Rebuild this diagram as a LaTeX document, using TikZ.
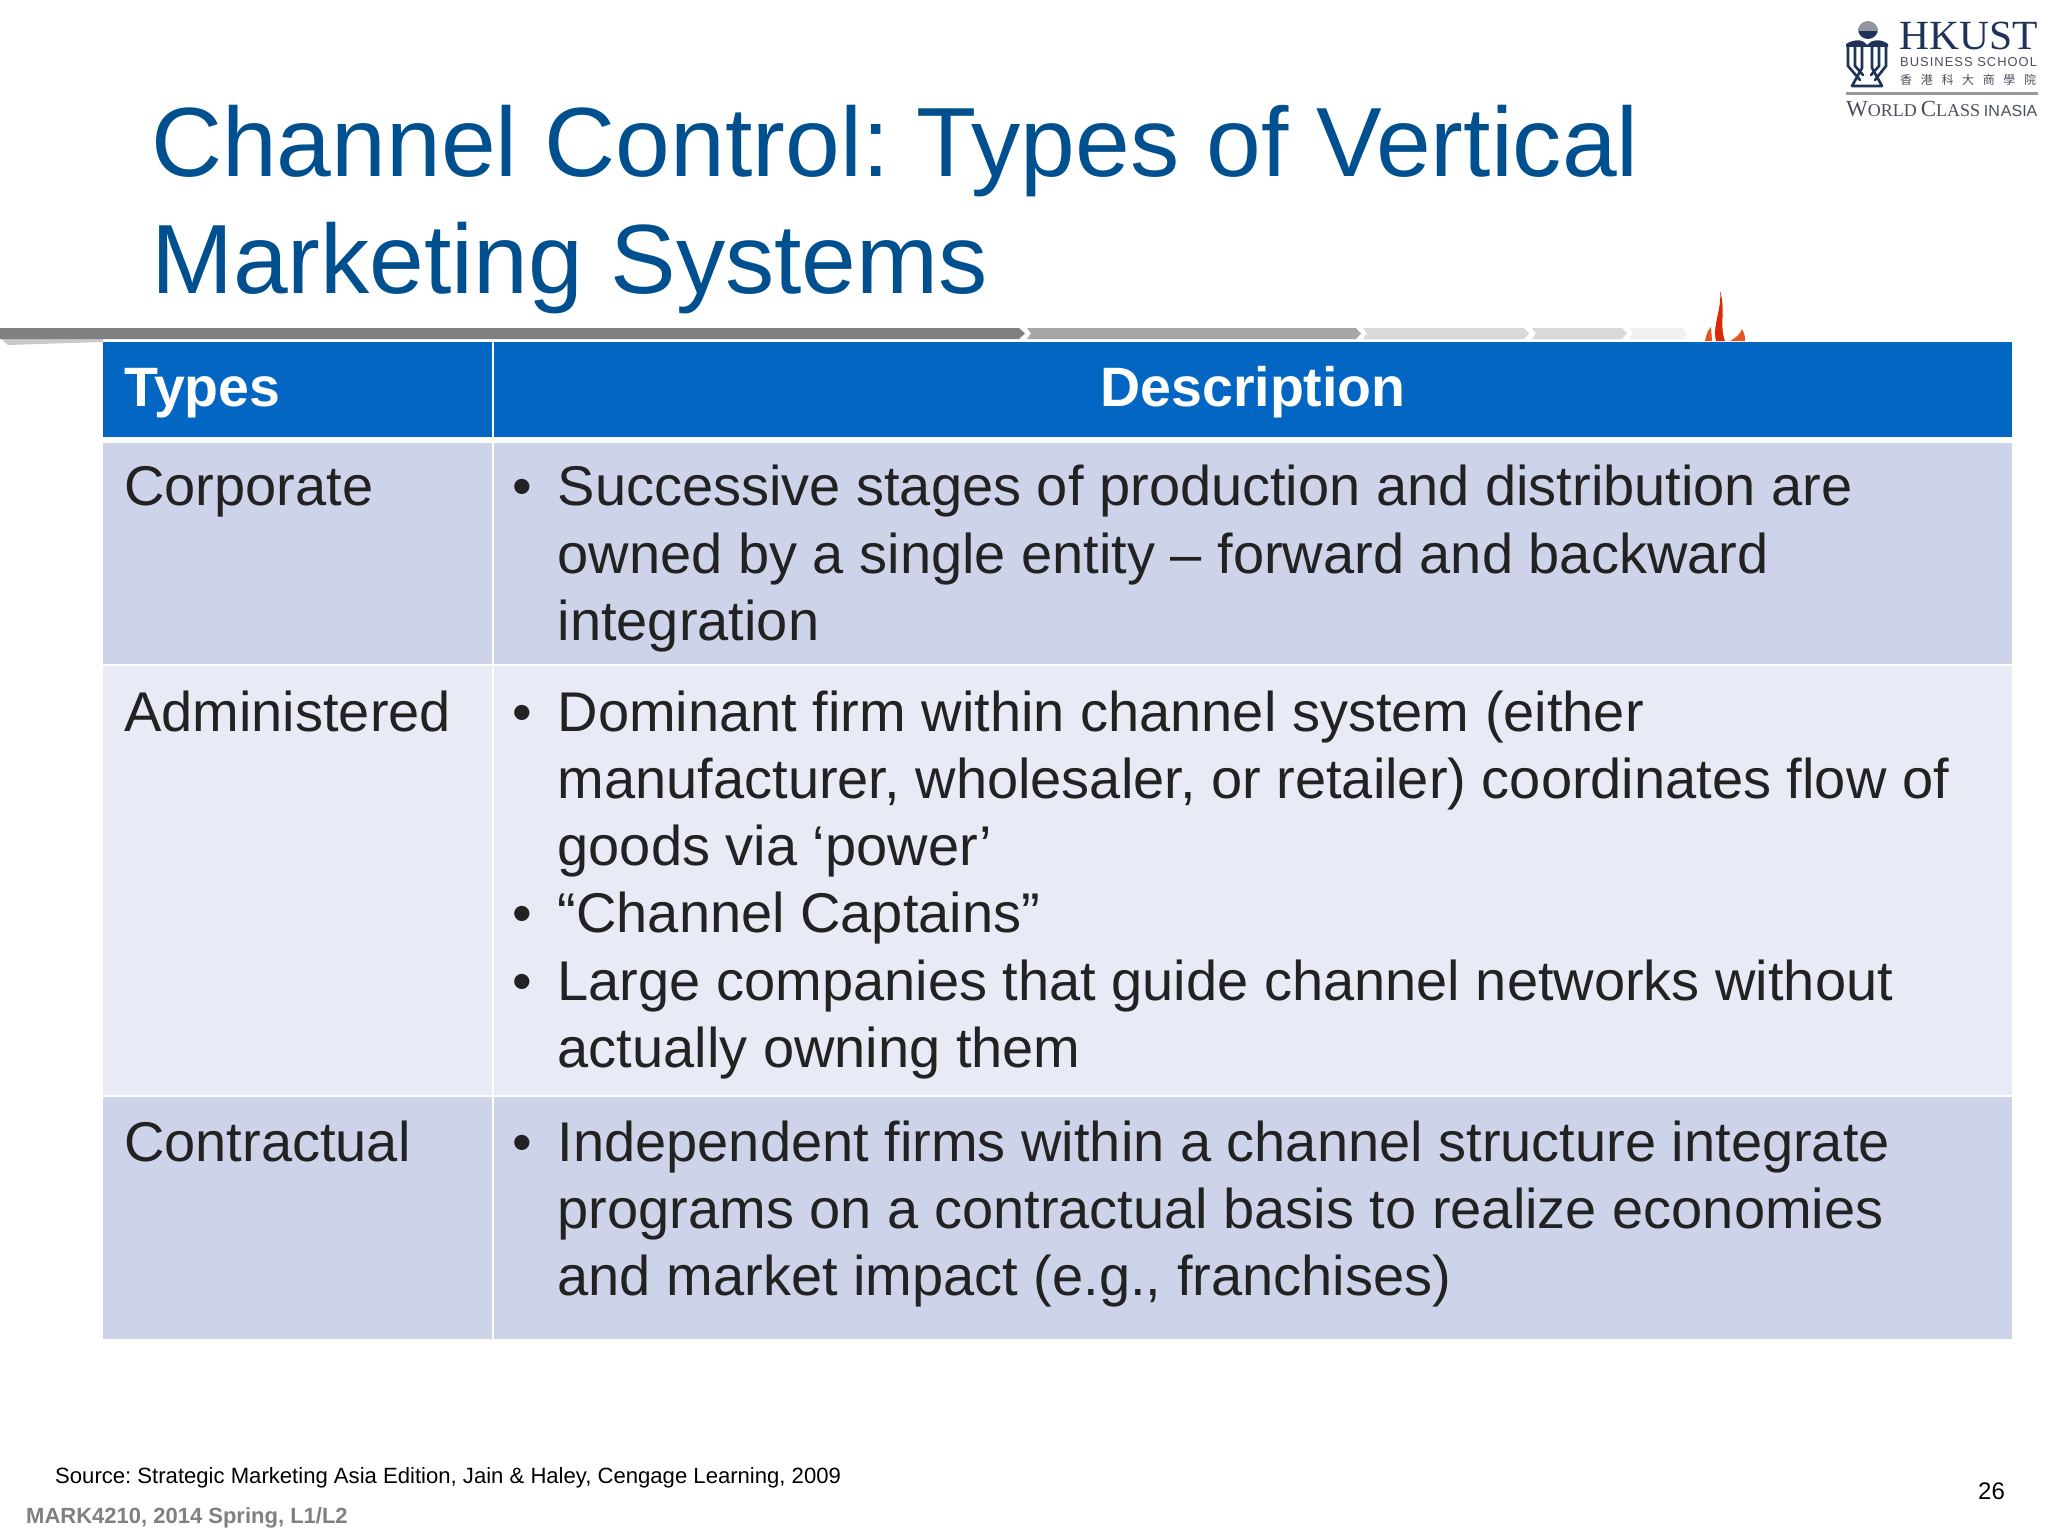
\documentclass[tikz,border=0pt]{standalone}
\usepackage{fontspec}
\setmainfont{Liberation Sans}
\newfontfamily\logoserif{Liberation Serif}
\newfontfamily\cjkfont{Noto Sans CJK TC}
\frenchspacing
\definecolor{titleblue}{HTML}{00508F}
\definecolor{headblue}{HTML}{0366C2}
\definecolor{rowdark}{HTML}{CDD4EA}
\definecolor{rowlight}{HTML}{E8EBF5}
\definecolor{logonavy}{HTML}{1F3358}
\definecolor{logogray}{HTML}{4A4F5C}
\definecolor{bodyink}{HTML}{222222}
\definecolor{flamered}{HTML}{D92B06}
\definecolor{flameorange}{HTML}{E8561E}
\tikzset{
  x=1pt,y=-1pt,
  cellbox/.style={anchor=north west,inner sep=0pt,outer sep=0pt,draw=none},
  titletext/.style={anchor=base west,inner sep=0pt,text=titleblue,font=\fontsize{98.4}{100}\selectfont},
  headtext/.style={inner sep=0pt,text=white,font=\fontsize{55.5}{60}\selectfont\bfseries},
  bodytext/.style={inner sep=0pt,text=bodyink,font=\fontsize{56}{67.3}\selectfont},
  paratext/.style={bodytext,anchor=north west,align=left},
  bulletmark/.style={bodytext,anchor=base west},
  labeltext/.style={bodytext,anchor=base west},
  barseg/.style={draw=none},
}
\newcommand{\bodyrule}{\rule{0pt}{46pt}}
\begin{document}
\begin{tikzpicture}
\useasboundingbox (0,0) rectangle (2048,1536);
\fill[white] (0,0) rectangle (2048,1536);
% progress bar
\fill[black!35,opacity=.6] (0,338) -- (103,338) -- (103,342) -- (8,345) -- cycle;
\fill[barseg,fill=black!50] (0,328) -- (1019,328) -- (1025,333.5) -- (1019,339) -- (0,339) -- cycle;
\fill[barseg,fill=black!35] (1027,328) -- (1356,328) -- (1361,333.5) -- (1356,339) -- (1027,339) -- (1031,333.5) -- cycle;
\fill[barseg,fill=black!15] (1363,328) -- (1524,328) -- (1529,333.5) -- (1524,339) -- (1363,339) -- (1367,333.5) -- cycle;
\fill[barseg,fill=black!15] (1532,328) -- (1622,328) -- (1627,333.5) -- (1622,339) -- (1532,339) -- (1536,333.5) -- cycle;
\fill[barseg,fill=black!6] (1629,328) -- (1683,328) -- (1687,333.5) -- (1683,339) -- (1629,339) -- (1633,333.5) -- cycle;
% flame
\fill[flamered] (1720,291) .. controls (1726,310) and (1719,325) .. (1725,341) -- (1716,341) .. controls (1712,325) and (1722,310) .. (1720,291) -- cycle;
\fill[flameorange] (1705,341) .. controls (1706,335) and (1708,330) .. (1711,327) -- (1712,341) -- cycle;
\fill[flameorange] (1745,341) .. controls (1745,335) and (1744,332) .. (1742,329) .. controls (1740,334) and (1736,338) .. (1730,341) -- cycle;
% title
\node[titletext] (title1) at (151,176) {Channel Control: Types of Vertical};
\node[titletext] (title2) at (151,293) {Marketing Systems};
% table cells
\node[cellbox,fill=headblue,minimum width=389pt,minimum height=95pt] (h1) at (103,342) {};
\node[cellbox,fill=headblue,minimum width=1518pt,minimum height=95pt] (h2) at (494,342) {};
\node[cellbox,fill=rowdark,minimum width=389pt,minimum height=221pt] (a1) at (103,443) {};
\node[cellbox,fill=rowdark,minimum width=1518pt,minimum height=221pt] (a2) at (494,443) {};
\node[cellbox,fill=rowlight,minimum width=389pt,minimum height=429pt] (b1) at (103,666) {};
\node[cellbox,fill=rowlight,minimum width=1518pt,minimum height=429pt] (b2) at (494,666) {};
\node[cellbox,fill=rowdark,minimum width=389pt,minimum height=242pt] (c1) at (103,1097) {};
\node[cellbox,fill=rowdark,minimum width=1518pt,minimum height=242pt] (c2) at (494,1097) {};
% headers
\node[headtext,anchor=base west] (types) at (124,406) {Types};
\node[headtext,anchor=base] (descr) at (1253,406) {Description};
% first column
\node[labeltext] (corp) at (124,505.5) {Corporate};
\node[labeltext] (admin) at (124,731) {Administered};
\node[labeltext] (contr) at (124,1161) {Contractual};
% bullets
\node[bulletmark] (ba) at (512,505.5) {•};
\node[bulletmark] (bb) at (512,731) {•};
\node[bulletmark] (bc) at (512,932) {•};
\node[bulletmark] (bd) at (512,1000) {•};
\node[bulletmark] (be) at (512,1161) {•};
% descriptions
\node[paratext] (pa) at (557.5,459.5) {\bodyrule Successive stages of production and distribution are\\owned by a single entity – forward and backward\\integration};
\node[paratext] (pb) at (557.5,685) {\bodyrule Dominant firm within channel system (either\\manufacturer, wholesaler, or retailer) coordinates flow of\\goods via ‘power’};
\node[paratext] (pc) at (557.5,886) {\bodyrule “Channel Captains”};
\node[paratext] (pd) at (557.5,954) {\bodyrule Large companies that guide channel networks without\\actually owning them};
\node[paratext] (pe) at (557.5,1115) {\bodyrule Independent firms within a channel structure integrate\\programs on a contractual basis to realize economies\\and market impact (e.g., franchises)};
% footer
\node[anchor=base west,inner sep=0pt,font=\fontsize{22.1}{26}\selectfont] (src) at (55,1483) {Source: Strategic Marketing Asia Edition, Jain \& Haley, Cengage Learning, 2009};
\node[anchor=base west,inner sep=0pt,text=black!50,font=\fontsize{22}{26}\selectfont\bfseries] (mark) at (26,1523) {MARK4210, 2014 Spring, L1/L2};
\node[anchor=base west,inner sep=0pt,font=\fontsize{24}{26}\selectfont] (pg) at (1978,1499) {26};
% logo
\fill[logonavy] (1858,29) arc[start angle=180,end angle=0,radius=10] -- cycle;
\fill[logogray!60] (1858,31) arc[start angle=180,end angle=360,radius=10] -- cycle;
\fill[logonavy] (1846,44) .. controls (1856,38) and (1864,40) .. (1867,45) .. controls (1871,40) and (1880,38) .. (1888,44) -- (1888,47) -- (1846,47) -- cycle;
\draw[logonavy,line width=2.6pt,line cap=round]
  (1848,47) -- (1848,66) -- (1860,80)
  (1855,47) -- (1855,66) -- (1863,75)
  (1862,47) -- (1862,68) -- (1852,86)
  (1886,47) -- (1886,66) -- (1875,80)
  (1879,47) -- (1879,66) -- (1871,75)
  (1872,47) -- (1872,68) -- (1882,86)
  (1852,86) -- (1882,86);
\node[anchor=base west,inner sep=0pt,text=logonavy,font=\logoserif\fontsize{41.5}{44}\selectfont] (hk) at (1899,50) {HKUST};
\node[anchor=base west,inner sep=0pt,text=logogray,font=\fontsize{12.9}{16}\selectfont] (bs) at (1900,67) {\addfontfeatures{LetterSpace=8}BUSINESS SCHOOL};
\node[anchor=base west,inner sep=0pt,text=logogray,font=\cjkfont\fontsize{12}{14}\selectfont] (zh) at (1900,85) {\addfontfeatures{LetterSpace=72}香港科大商學院};
\fill[black!40] (1846,92.5) rectangle (2038,95.5);
\node[anchor=base west,inner sep=0pt,text=logogray,font=\logoserif\fontsize{23}{22}\selectfont] (wc) at (1846,117) {W{\fontsize{18}{18}\selectfont ORLD}\,C{\fontsize{18}{18}\selectfont LASS}\,{\fontspec{Liberation Sans}\fontsize{16}{18}\selectfont IN\kern1pt ASIA}};
\end{tikzpicture}
\end{document}
